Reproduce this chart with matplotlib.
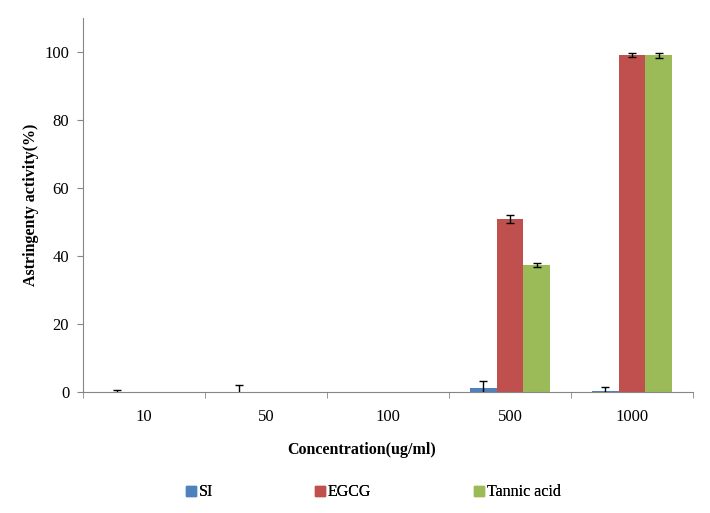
import numpy as np
import matplotlib.pyplot as plt
from matplotlib.patches import Patch

plt.rcParams['font.family'] = ['Liberation Serif', 'DejaVu Serif']

# donnees
concentrations = ['10', '50', '100', '500', '1000']
series = ['SI', 'EGCG', 'Tannic acid']
si = [0.0, 0.0, 0.0, 1.2, 0.3]
si_err = [0.6, 2.0, 0.0, 2.1, 1.2]
egcg = [0.0, 0.0, 0.0, 50.8, 99.2]
egcg_err = [0.0, 0.0, 0.0, 1.2, 0.6]
tannic = [0.0, 0.0, 0.0, 37.3, 99.0]
tannic_err = [0.0, 0.0, 0.0, 0.6, 0.8]
colors = ['#4F81BD', '#C0504D', '#9BBB59']

fig = plt.figure(figsize=(7.1, 5.13), dpi=100)
ax = fig.add_axes([0.117, 0.236, 0.859, 0.729])

x = np.arange(len(concentrations))
w = 0.22
for i, (vals, errs) in enumerate([(si, si_err), (egcg, egcg_err), (tannic, tannic_err)]):
    pos = x + (i - 1) * w
    ax.bar(pos, vals, width=w, color=colors[i], zorder=2)
    e = np.array(errs)
    m = e > 0
    ax.errorbar(pos[m], np.array(vals)[m], yerr=e[m], fmt='none', ecolor='black',
                elinewidth=1, capsize=3, capthick=1, zorder=3)

ax.set_xlim(-0.5, len(concentrations) - 0.5)
ax.set_ylim(0, 110)
ax.set_yticks(range(0, 101, 20))
ax.set_xticks(x)
ax.set_xticklabels(concentrations)
ax.set_xticks(np.arange(-0.5, len(concentrations), 1.0), minor=True)
ax.tick_params(axis='x', which='major', length=0, pad=12, labelsize=12)
ax.tick_params(axis='x', which='minor', length=4, direction='out', color='#868686')
ax.tick_params(axis='y', length=4, direction='out', color='#868686', labelsize=12, pad=6)
for s in ['top', 'right']:
    ax.spines[s].set_visible(False)
for s in ['left', 'bottom']:
    ax.spines[s].set_color('#868686')

ax.set_xlabel('Concentration(ug/ml)', fontweight='bold', fontsize=11.5)
ax.xaxis.set_label_coords(0.457, -0.134)
ax.set_ylabel('Astringenty activity(%)', fontweight='bold', fontsize=11.5, labelpad=4)

# une legende par serie, placees comme dans l'original
leg_x = [0.262, 0.444, 0.668]
for c, name, lx in zip(colors, series, leg_x):
    lg = fig.legend([Patch(color=c)], [name], loc='center left', bbox_to_anchor=(lx, 0.04),
                    frameon=False, fontsize=11.5, handlelength=0.6, handleheight=0.6,
                    handletextpad=0.2, borderaxespad=0, borderpad=0)
    fig.add_artist(lg)

fig.savefig('out.png', dpi=100)
